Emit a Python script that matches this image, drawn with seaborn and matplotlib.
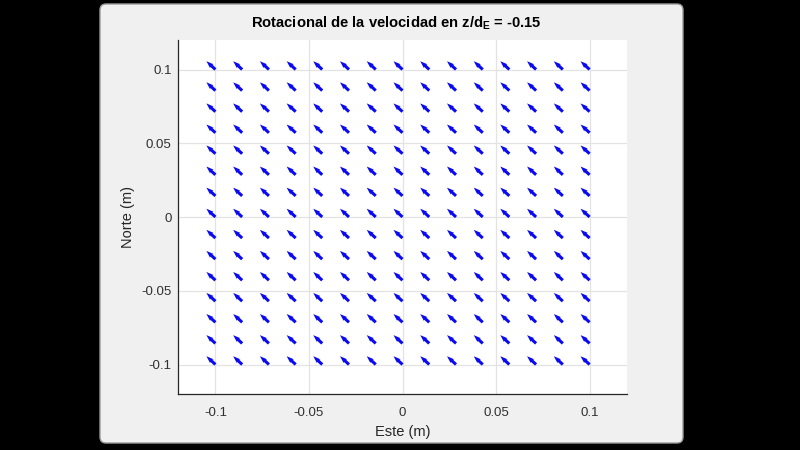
import numpy as np
import pandas as pd
import matplotlib
matplotlib.use("Agg")
import matplotlib.pyplot as plt
from matplotlib.patches import FancyBboxPatch
import seaborn as sns

# ---- data ----
x_positions = [-0.1, -0.0857, -0.0714, -0.0571, -0.0429, -0.0286, -0.0143, 0.0,
               0.0143, 0.0286, 0.0429, 0.0571, 0.0714, 0.0857, 0.1]
y_positions = [-0.1, -0.0857, -0.0714, -0.0571, -0.0429, -0.0286, -0.0143, 0.0,
               0.0143, 0.0286, 0.0429, 0.0571, 0.0714, 0.0857, 0.1]
u_component = -0.0048   # uniform east component of the curl vector
v_component = 0.0056    # uniform north component of the curl vector
x_ticks = [-0.1, -0.05, 0, 0.05, 0.1]
x_tick_labels = ["-0.1", "-0.05", "0", "0.05", "0.1"]
y_ticks = [-0.1, -0.05, 0, 0.05, 0.1]
y_tick_labels = ["-0.1", "-0.05", "0", "0.05", "0.1"]
title_text = r"Rotacional de la velocidad en z/d$_{\mathbf{E}}$ = -0.15"
x_label = "Este (m)"
y_label = "Norte (m)"

X, Y = np.meshgrid(x_positions, y_positions)
df = pd.DataFrame({"x": X.ravel(), "y": Y.ravel()})
df["u"] = u_component
df["v"] = v_component

sns.set_theme(style="white")
plt.rcParams["font.family"] = ["Liberation Sans", "DejaVu Sans"]
plt.rcParams["mathtext.fontset"] = "custom"
plt.rcParams["mathtext.rm"] = "Liberation Sans"
plt.rcParams["mathtext.bf"] = "Liberation Sans:bold"

W, H = 800, 450
fig = plt.figure(figsize=(8, 4.5), dpi=100, facecolor="black")

# MATLAB-like figure window
window = FancyBboxPatch((100, 7), 583, 439, boxstyle="round,pad=0,rounding_size=6",
                        transform=None, facecolor="#f0f0f0", edgecolor="#9a9a9a",
                        linewidth=1.0, zorder=0)
fig.add_artist(window)

ax = fig.add_axes([178 / W, 1 - 394 / H, (627 - 178) / W, (394 - 40) / H])
ax.set_facecolor("white")

ax.quiver(df["x"], df["y"], df["u"], df["v"], angles="xy", scale_units="xy", scale=1,
          color="#0a0af0", width=0.0068, headwidth=1.7, headlength=2.4,
          headaxislength=2.2, zorder=3)

ax.set_xlim(-0.12, 0.12)
ax.set_ylim(-0.12, 0.12)
ax.set_xticks(x_ticks)
ax.set_xticklabels(x_tick_labels)
ax.set_yticks(y_ticks)
ax.set_yticklabels(y_tick_labels)

ax.grid(True, color="#e3e3e3", linewidth=0.9)
ax.set_axisbelow(True)
for s in ["top", "right"]:
    ax.spines[s].set_visible(False)
for s in ["left", "bottom"]:
    ax.spines[s].set_color("#262626")
    ax.spines[s].set_linewidth(0.9)

ax.tick_params(axis="both", direction="in", length=4, width=0.8, color="#262626",
               labelcolor="#303030", labelsize=9.5)
ax.tick_params(axis="x", pad=9)
ax.tick_params(axis="y", pad=4.5)

ax.set_title(title_text, fontsize=10.6, fontweight="bold", color="black", pad=9,
             x=0.5 - 6 / 449)
ax.set_xlabel(x_label, fontsize=10.5, color="#262626")
ax.set_ylabel(y_label, fontsize=10.5, color="#262626")
ax.xaxis.set_label_coords(0.5, -(425 - 394) / 354)
ax.yaxis.set_label_coords(-(178 - 135) / 449, 0.5)

fig.savefig("out.png", dpi=100, facecolor="black")
